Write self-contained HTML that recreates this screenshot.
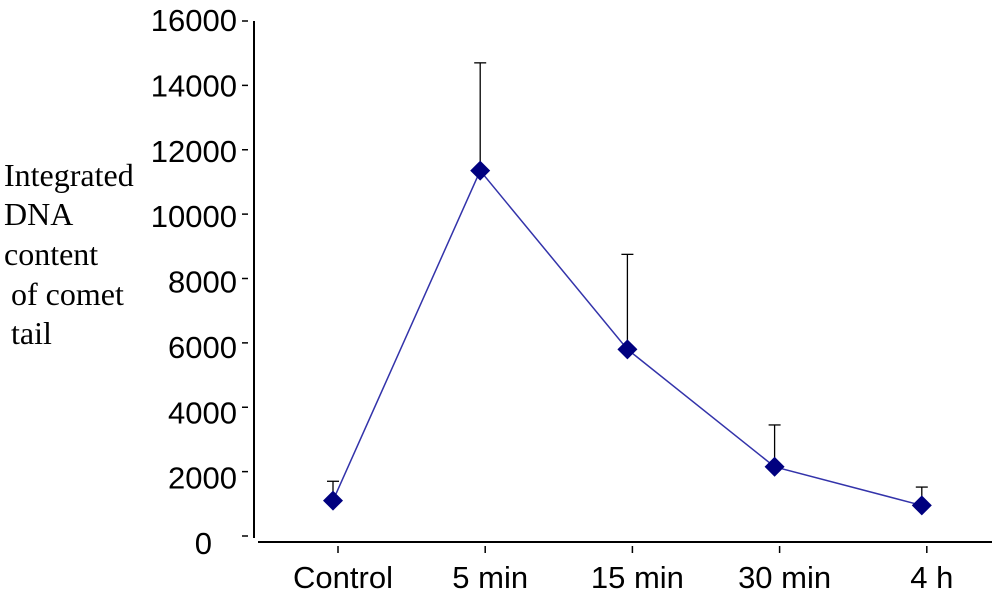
<!DOCTYPE html>
<html><head><meta charset="utf-8"><style>
body{margin:0;background:#fff;}
svg{display:block;}
.t{font-family:"Liberation Sans",sans-serif;font-size:31px;fill:#000;}
.s{font-family:"Liberation Serif",serif;font-size:32px;fill:#000;}
</style></head><body>
<svg id="chart" width="1000" height="596">
<g id="ylab">
<text class="s" x="4" y="186">Integrated</text>
<text class="s" x="4" y="225">DNA</text>
<text class="s" x="4" y="265">content</text>
<text class="s" x="11" y="305"> of comet</text>
<text class="s" x="11" y="344"> tail</text>
</g>
</svg>
<script>
const categories=["Control","5 min","15 min","30 min","4 h"];
const values=[1100,11350,5800,2150,950];
const errors=[600,3350,2950,1300,570];
const yTicks=[0,2000,4000,6000,8000,10000,12000,14000,16000];
const svg=document.getElementById('chart');
const NS='http://www.w3.org/2000/svg';
function y(v){return 536-v*(515/16000);}
function ylab(v){return 543-v*(523/16000);}
function x(i){return 333+i*147.2;}
function mk(t,a,p){const e=document.createElementNS(NS,t);for(const k in a)e.setAttribute(k,a[k]);(p||svg).appendChild(e);return e;}
const ya=mk('line',{x1:254,y1:21,x2:254,y2:538,stroke:'#000','stroke-width':2});


const xa=mk('line',{x1:258,y1:542,x2:992,y2:542,stroke:'#000','stroke-width':2});


yTicks.forEach(v=>{
 const tk=mk('line',{x1:242,y1:y(v),x2:248,y2:y(v),stroke:'#000','stroke-width':1.5});
 
 
 const tx=mk('text',{x:v===0?212:237,y:ylab(v)+11,'text-anchor':'end',class:'t'});
 tx.textContent=v;
 
 
});
categories.forEach((c,i)=>{
 const tk=mk('line',{x1:x(i)+5,y1:546,x2:x(i)+5,y2:553,stroke:'#000','stroke-width':1.5});
 
 
 const tx=mk('text',{x:x(i)+10,y:588,'text-anchor':'middle',class:'t'});
 tx.textContent=c;
 
 
});
values.forEach((v,i)=>{
 const top=y(v+errors[i]);
 const el=mk('line',{x1:x(i),y1:y(v),x2:x(i),y2:top,stroke:'#000','stroke-width':1.3});
 
 
 const cp=mk('line',{x1:x(i)-6,y1:top,x2:x(i)+6,y2:top,stroke:'#000','stroke-width':1.3});
 
 
});
const pl=mk('polyline',{points:values.map((v,i)=>x(i)+','+y(v)).join(' '),fill:'none',stroke:'#3333aa','stroke-width':1.5});


values.forEach((v,i)=>{
 const cx=x(i),cy=y(v),r=10;
 const m=mk('polygon',{points:`${cx},${cy-r} ${cx+r},${cy} ${cx},${cy+r} ${cx-r},${cy}`,fill:'#00007f'});
 
 
});
</script>
</body></html>
